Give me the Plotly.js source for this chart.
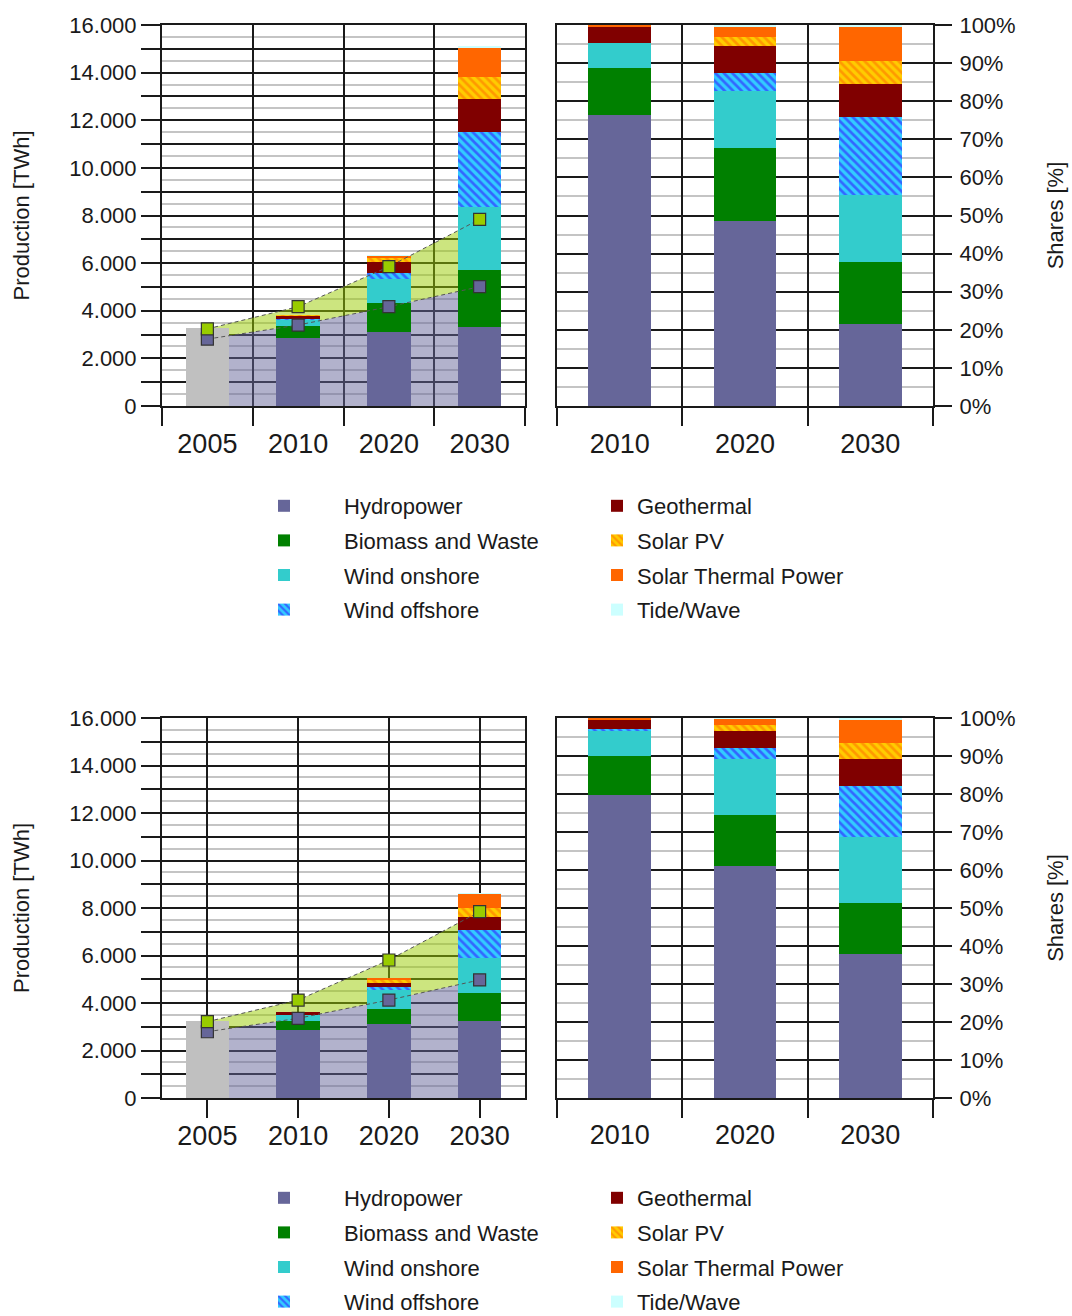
<!DOCTYPE html>
<html>
<head>
<meta charset="utf-8">
<script src="https://cdn.plot.ly/plotly-3.0.1.min.js"></script>
<style>html,body{margin:0;padding:0;background:#fff;overflow:hidden}#chart{width:1072px;height:1316px}</style>
</head>
<body>
<div id="chart"></div>
<script>
// ---------- categories ----------
const years = ['2005', '2010', '2020', '2030'];
const barYears = ['2010', '2020', '2030'];
const techNames = ['Hydropower', 'Biomass and Waste', 'Wind onshore', 'Wind offshore',
                   'Geothermal', 'Solar PV', 'Solar Thermal Power', 'Tide/Wave'];

// ---------- upper scenario: production [TWh] (2010, 2020, 2030) ----------
const topHydro    = [2840, 3120, 3330];
const topBiomass  = [520, 1190, 2380];
const topWindOn   = [260, 1010, 2630];
const topWindOff  = [15, 250, 3180];
const topGeo      = [165, 490, 1360];
const topPV       = [5, 140, 950];
const topSolarTh  = [20, 110, 1190];
const topTide     = [5, 30, 90];
const top2005     = [3260];
const topHydroPot = [2810, 3400, 4170, 5010];   // purple markers 2005..2030
const topTotalPot = [3240, 4170, 5850, 7840];   // green markers 2005..2030

// ---------- upper scenario: shares [%] ----------
const topShHydro   = [76.4, 48.6, 21.5];
const topShBiomass = [12.4, 19.2, 16.4];
const topShWindOn  = [6.4, 14.9, 17.5];
const topShWindOff = [0.1, 4.6, 20.4];
const topShGeo     = [4.1, 7.3, 8.7];
const topShPV      = [0.1, 2.3, 6.1];
const topShSolarTh = [0.4, 2.5, 8.9];
const topShTide    = [0.1, 0.6, 0.5];

// ---------- lower scenario: production [TWh] ----------
const botHydro    = [2860, 3115, 3255];
const botBiomass  = [400, 620, 1180];
const botWindOn   = [235, 810, 1445];
const botWindOff  = [15, 115, 1195];
const botGeo      = [100, 195, 530];
const botPV       = [5, 110, 380];
const botSolarTh  = [20, 75, 600];
const botTide     = [5, 15, 50];
const bot2005     = [3255];
const botHydroPot = [2790, 3355, 4125, 4970];
const botTotalPot = [3215, 4125, 5810, 7845];

// ---------- lower scenario: shares [%] ----------
const botShHydro   = [79.8, 61.0, 37.9];
const botShBiomass = [10.1, 13.6, 13.4];
const botShWindOn  = [6.8, 14.6, 17.3];
const botShWindOff = [0.3, 2.9, 13.4];
const botShGeo     = [2.4, 4.6, 7.2];
const botShPV      = [0.1, 1.5, 4.2];
const botShSolarTh = [0.4, 1.5, 6.0];
const botShTide    = [0.1, 0.3, 0.6];

// ---------- styles ----------
const techMarkers = [
  {color: '#666699'},
  {color: '#008000'},
  {color: '#33cccc'},
  {color: '#33ccff', pattern: {shape: '\\', fgcolor: '#3366ff', bgcolor: '#33ccff', size: 6, solidity: 0.45, fillmode: 'replace'}},
  {color: '#800000'},
  {color: '#ffcc00', pattern: {shape: '\\', fgcolor: '#ff9900', bgcolor: '#ffcc00', size: 6, solidity: 0.45, fillmode: 'replace'}},
  {color: '#ff6600'},
  {color: '#ccffff'}
];
const FONT = 'Liberation Sans, Arial, sans-serif';
const TXT = '#1a1a1a';
const MAJOR = '#1a1a1a', MINOR = '#c4c4c4';

// figure and plotting-region geometry (pixels)
const W = 1072, H = 1316;
const M = {l: 162, r: W - 933, t: 25, b: H - 1098};
const PW = W - M.l - M.r, PH = H - M.t - M.b;
const px = v => (v - M.l) / PW;          // paper fraction from figure px
const py = v => 1 - (v - M.t) / PH;

// minor grid positions halfway between major grid lines
function halfSteps(max, step) {
  const out = [];
  for (let v = step / 2; v < max; v += step) out.push(v);
  return out;
}

const traces = [];

function addScenario(prod, shares, total2005, hydroPot, totalPot, ax, legA, legB, grp) {
  // base subplot: shaded potential areas (behind bars)
  traces.push({type: 'scatter', x: years, y: hydroPot, xaxis: ax.base[0], yaxis: ax.base[1],
    mode: 'lines', line: {width: 0}, fill: 'tozeroy', fillcolor: 'rgba(102,102,153,0.5)',
    showlegend: false, hoverinfo: 'skip'});
  traces.push({type: 'scatter', x: years, y: totalPot, xaxis: ax.base[0], yaxis: ax.base[1],
    mode: 'lines', line: {width: 0}, fill: 'tonexty', fillcolor: 'rgba(153,204,0,0.5)',
    showlegend: false, hoverinfo: 'skip'});
  // overlay subplot: bars
  traces.push({type: 'bar', x: ['2005'], y: total2005, xaxis: ax.ov[0], yaxis: ax.ov[1],
    width: 0.48, marker: {color: '#c0c0c0', line: {width: 0}}, showlegend: false, name: '2005'});
  for (let i = 0; i < techNames.length; i++) {
    traces.push({type: 'bar', x: barYears, y: prod[i], xaxis: ax.ov[0], yaxis: ax.ov[1],
      width: 0.48, name: techNames[i], marker: Object.assign({line: {width: 0}}, techMarkers[i]),
      legend: i < 4 ? legA : legB, legendgroup: grp + i, showlegend: true});
  }
  // overlay: dashed lines + square markers
  traces.push({type: 'scatter', x: years, y: hydroPot, xaxis: ax.ov[0], yaxis: ax.ov[1],
    mode: 'lines+markers', line: {color: '#555555', width: 1, dash: '4px,3px'},
    marker: {symbol: 'square', size: 12, color: '#666699', line: {color: '#333333', width: 1.2}},
    showlegend: false});
  traces.push({type: 'scatter', x: years, y: totalPot, xaxis: ax.ov[0], yaxis: ax.ov[1],
    mode: 'lines+markers', line: {color: '#555555', width: 1, dash: '4px,3px'},
    marker: {symbol: 'square', size: 12, color: '#99cc00', line: {color: '#333333', width: 1.2}},
    showlegend: false});
  // shares subplot
  for (let i = 0; i < techNames.length; i++) {
    traces.push({type: 'bar', x: barYears, y: shares[i], xaxis: ax.sh[0], yaxis: ax.sh[1],
      width: 0.5, name: techNames[i], marker: Object.assign({line: {width: 0}}, techMarkers[i]),
      showlegend: false});
  }
}

addScenario(
  [topHydro, topBiomass, topWindOn, topWindOff, topGeo, topPV, topSolarTh, topTide],
  [topShHydro, topShBiomass, topShWindOn, topShWindOff, topShGeo, topShPV, topShSolarTh, topShTide],
  top2005, topHydroPot, topTotalPot,
  {base: ['x', 'y'], ov: ['x2', 'y2'], sh: ['x3', 'y3']}, 'legend', 'legend2', 'top');
addScenario(
  [botHydro, botBiomass, botWindOn, botWindOff, botGeo, botPV, botSolarTh, botTide],
  [botShHydro, botShBiomass, botShWindOn, botShWindOff, botShGeo, botShPV, botShSolarTh, botShTide],
  bot2005, botHydroPot, botTotalPot,
  {base: ['x4', 'y4'], ov: ['x5', 'y5'], sh: ['x6', 'y6']}, 'legend3', 'legend4', 'bot');

// ---------- axes ----------
const leftDom = [px(162), px(525)];
const rightDom = [px(557), px(933)];
const topDom = [py(406), py(25)];
const botDom = [py(1098), py(718)];

function prodX(domain, anchor, boundaries, standoff) {
  return {domain: domain, anchor: anchor, type: 'category', categoryorder: 'array', categoryarray: years,
    range: [-0.5, 3.5], tickson: boundaries ? 'boundaries' : 'labels', ticks: 'outside', ticklen: 18,
    ticklabelstandoff: standoff,
    tickwidth: 2, tickcolor: MAJOR, showgrid: true, gridcolor: MAJOR, gridwidth: 2,
    showline: true, mirror: true, linecolor: MAJOR, linewidth: 2,
    tickfont: {family: FONT, size: 27, color: TXT}, zeroline: false, fixedrange: true};
}
function prodY(domain, anchor) {
  return {domain: domain, anchor: anchor, range: [0, 16000], tickmode: 'linear', tick0: 0, dtick: 1000,
    ticklabelstep: 2, tickformat: ',d', ticks: 'outside', ticklen: 19, tickwidth: 2, tickcolor: MAJOR,
    showgrid: true, gridcolor: MAJOR, gridwidth: 2,
    minor: {tickmode: 'array', tickvals: halfSteps(16000, 1000), showgrid: true, gridcolor: MINOR, gridwidth: 2, ticks: ''},
    showline: true, mirror: true, linecolor: MAJOR, linewidth: 2, zeroline: false,
    tickfont: {family: FONT, size: 22, color: TXT},
    title: {text: 'Production [TWh]', font: {family: FONT, size: 22, color: TXT}, standoff: 34},
    fixedrange: true};
}
function ovX(over, anchor) {
  return {overlaying: over, anchor: anchor, type: 'category', categoryorder: 'array', categoryarray: years,
    range: [-0.5, 3.5], visible: false, showgrid: false, fixedrange: true};
}
function ovY(over, anchor) {
  return {overlaying: over, anchor: anchor, range: [0, 16000], visible: false, showgrid: false, fixedrange: true};
}
function shX(domain, anchor, standoff) {
  return {domain: domain, anchor: anchor, type: 'category', categoryorder: 'array', categoryarray: barYears,
    range: [-0.5, 2.5], tickson: 'boundaries', ticks: 'outside', ticklen: 18, tickwidth: 2, tickcolor: MAJOR,
    ticklabelstandoff: standoff,
    showgrid: true, gridcolor: MAJOR, gridwidth: 2, showline: true, mirror: true, linecolor: MAJOR, linewidth: 2,
    tickfont: {family: FONT, size: 27, color: TXT}, zeroline: false, fixedrange: true};
}
function shY(domain, anchor) {
  return {domain: domain, anchor: anchor, side: 'right', range: [0, 100], tickmode: 'linear', dtick: 10, tick0: 0, ticksuffix: '%',
    ticks: 'outside', ticklen: 17, tickwidth: 2, tickcolor: MAJOR, ticklabelstandoff: 3,
    showgrid: true, gridcolor: MAJOR, gridwidth: 2,
    minor: {tickmode: 'array', tickvals: halfSteps(100, 10), showgrid: true, gridcolor: MINOR, gridwidth: 2, ticks: ''},
    showline: true, mirror: true, linecolor: MAJOR, linewidth: 2, zeroline: false,
    tickfont: {family: FONT, size: 22, color: TXT},
    title: {text: 'Shares [%]', font: {family: FONT, size: 22, color: TXT}, standoff: 33},
    fixedrange: true};
}

function legendAt(xPix, yPix, itemw) {
  return {x: px(xPix), y: py(yPix), xanchor: 'left', yanchor: 'top', orientation: 'v',
    traceorder: 'grouped', tracegroupgap: 3, itemwidth: itemw, bgcolor: 'rgba(0,0,0,0)',
    font: {family: FONT, size: 22, color: TXT}, itemclick: false, itemdoubleclick: false};
}

const layout = {
  width: W, height: H,
  margin: {l: M.l, r: M.r, t: M.t, b: M.b, pad: 0, autoexpand: false},
  paper_bgcolor: '#ffffff', plot_bgcolor: '#ffffff',
  separators: ',.',
  barmode: 'stack',
  font: {family: FONT, color: TXT},
  xaxis: prodX(leftDom, 'y', true, 13),
  yaxis: prodY(topDom, 'x'),
  xaxis2: ovX('x', 'y2'),
  yaxis2: ovY('y', 'x2'),
  xaxis3: shX(rightDom, 'y3', 13),
  yaxis3: shY(topDom, 'x3'),
  xaxis4: prodX(leftDom, 'y4', false, -5),
  yaxis4: prodY(botDom, 'x4'),
  xaxis5: ovX('x4', 'y5'),
  yaxis5: ovY('y4', 'x5'),
  xaxis6: shX(rightDom, 'y6', 12),
  yaxis6: shY(botDom, 'x6'),
  legend: legendAt(224, 485, 110),
  legend2: legendAt(597, 485, 30),
  legend3: legendAt(224, 1177, 110),
  legend4: legendAt(597, 1177, 30),
  showlegend: true
};

Plotly.newPlot('chart', traces, layout, {staticPlot: true, displayModeBar: false});
</script>
</body>
</html>
